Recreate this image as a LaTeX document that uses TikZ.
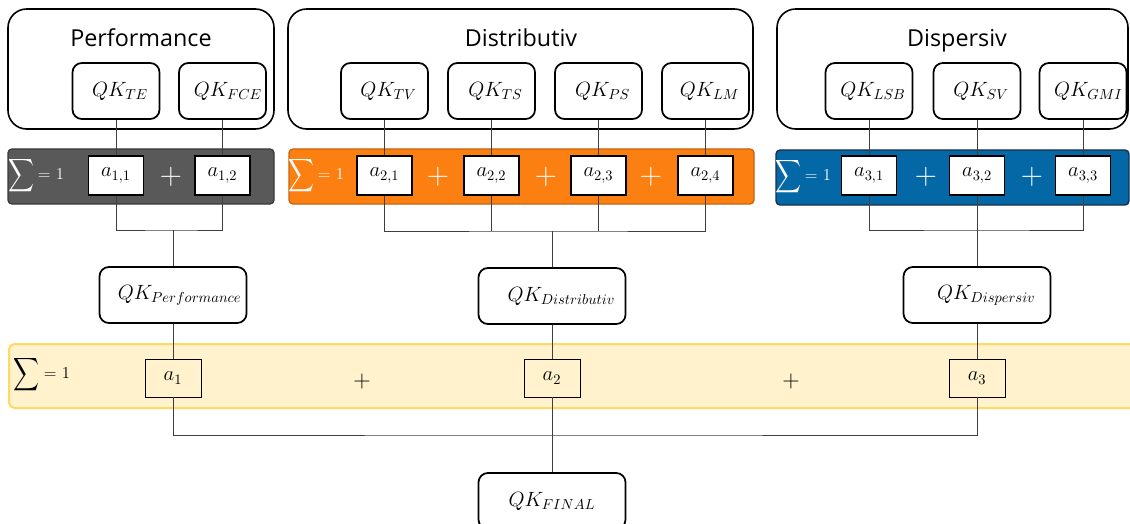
\RequirePackage{fix-cm}
\documentclass[tikz,border=0pt]{standalone}
\usepackage{amsmath}
\usepackage{graphicx}
\usepackage{fontspec}
\newfontfamily\titlefont{Open Sans}
\definecolor{darkfill}{HTML}{595959}
\definecolor{darkedge}{HTML}{3A3A3A}
\definecolor{orangefill}{HTML}{FC7F12}
\definecolor{orangeedge}{HTML}{C8640E}
\definecolor{bluefill}{HTML}{0467A6}
\definecolor{blueedge}{HTML}{1B2F45}
\definecolor{yellowfill}{HTML}{FFF2CC}
\definecolor{yellowedge}{HTML}{FFD966}
\definecolor{connc}{HTML}{3F3F3F}
\newcommand{\bigsum}{\scalebox{0.78}[1]{$\displaystyle\sum$}}
\begin{document}
\begin{tikzpicture}[x=0.75pt,y=-0.75pt,
  bigbox/.style={draw=black, line width=1.2pt, rounded corners=14pt},
  title/.style={font=\titlefont\fontsize{17.5}{20}\selectfont, inner sep=0pt, anchor=base},
  qkbox/.style={draw=black, line width=1.3pt, rounded corners=7pt, minimum width=87*0.75pt, minimum height=56*0.75pt, inner sep=0pt, font=\fontsize{15.5}{18}\selectfont},
  midbox/.style={qkbox, minimum width=147*0.75pt},
  barshape/.style={line width=1pt, rounded corners=3pt},
  abox/.style={draw=black, fill=white, line width=1.4pt, minimum width=55*0.75pt, minimum height=39*0.75pt, inner sep=0pt, font=\fontsize{15.5}{18}\selectfont},
  ybox/.style={draw=black, line width=0.6pt, minimum width=56*0.75pt, minimum height=38*0.75pt, inner sep=0pt, font=\fontsize{15.5}{18}\selectfont},
  sumsym/.style={inner sep=0pt, font=\fontsize{18}{18}\selectfont},
  sumeq/.style={inner sep=0pt, font=\fontsize{12.5}{14}\selectfont},
  plussign/.style={inner sep=0pt, font=\fontsize{23}{23}\selectfont},
  conn/.style={draw=connc, line width=0.75pt},
]
\clip (0,0) rectangle (1130,524);

% group boxes
\draw[bigbox] (8,9) rectangle (274,129);
\draw[bigbox] (288,9) rectangle (753,129);
\draw[bigbox] (777,9) rectangle (1128,129);
\node[title] (tperf) at (141,47) {Performance};
\node[title] (tdist) at (521,47) {Distributiv};
\node[title] (tdisp) at (957,47) {Dispersiv};

% weight bars
\draw[barshape, fill=darkfill, draw=darkedge] (8,149) rectangle (274,204);
\draw[barshape, fill=orangefill, draw=orangeedge] (289,149) rectangle (754,204);
\draw[barshape, fill=bluefill, draw=blueedge] (776,150) rectangle (1129,205);
\draw[line width=1.5pt, rounded corners=4pt, fill=yellowfill, draw=yellowedge] (9,344) rectangle (1150,408);

% sum labels
\node[sumsym, text=white] (s1) at (21,176) {\bigsum};
\node[sumeq, text=white] (e1) at (51,174) {= 1};
\node[sumsym, text=white] (s2) at (301,176) {\bigsum};
\node[sumeq, text=white] (e2) at (331,174) {= 1};
\node[sumsym, text=white] (s3) at (788,177) {\bigsum};
\node[sumeq, text=white] (e3) at (818,175) {= 1};
\node[sumsym] (s4) at (26,375) {\bigsum};
\node[sumeq] (e4) at (57,373) {= 1};

% plus signs
\node[plussign, text=white] (p1) at (171,177) {$+$};
\node[plussign, text=white] (p2) at (438,177) {$+$};
\node[plussign, text=white] (p3) at (546,177) {$+$};
\node[plussign, text=white] (p4) at (651,177) {$+$};
\node[plussign, text=white] (p5) at (926,177) {$+$};
\node[plussign, text=white] (p6) at (1032,177) {$+$};
\node[plussign, font=\fontsize{18}{18}\selectfont] (p7) at (362,381) {$+$};
\node[plussign, font=\fontsize{18}{18}\selectfont] (p8) at (791,381) {$+$};

% criterion boxes
\node[qkbox] (te)  at (116,91)   {\hspace*{6pt}$QK_{TE}$};
\node[qkbox] (fce) at (222.5,91) {\hspace*{8pt}$QK_{FCE}$};
\node[qkbox] (tv)  at (384.5,91) {\hspace*{6pt}$QK_{TV}$};
\node[qkbox] (ts)  at (491.5,91) {\hspace*{6pt}$QK_{TS}$};
\node[qkbox] (ps)  at (598.5,91) {\hspace*{6pt}$QK_{PS}$};
\node[qkbox] (lm)  at (705.5,91) {\hspace*{6pt}$QK_{LM}$};
\node[qkbox] (lsb) at (869,91)   {\hspace*{6pt}$QK_{LSB}$};
\node[qkbox] (sv)  at (977,91)   {\hspace*{6pt}$QK_{SV}$};
\node[qkbox] (gmi) at (1083,91)  {\hspace*{8pt}$QK_{GMI}$};

% weights
\node[abox] (a11) at (116,175.5)   {$a_{1,1}$};
\node[abox] (a12) at (222.5,175.5) {$a_{1,2}$};
\node[abox] (a21) at (384.5,175.5) {$a_{2,1}$};
\node[abox] (a22) at (491.5,175.5) {$a_{2,2}$};
\node[abox] (a23) at (598.5,175.5) {$a_{2,3}$};
\node[abox] (a24) at (705.5,175.5) {$a_{2,4}$};
\node[abox] (a31) at (869,175.5)   {$a_{3,1}$};
\node[abox] (a32) at (977,175.5)   {$a_{3,2}$};
\node[abox] (a33) at (1083,175.5)  {$a_{3,3}$};

% aggregated criteria
\node[midbox] (qkp)    at (173,295) {\hspace*{10pt}$QK_{Performance}$};
\node[midbox] (qkd)    at (552,296) {\hspace*{14pt}$QK_{Distributiv}$};
\node[midbox] (qkdisp) at (977,295) {\hspace*{14pt}$QK_{Dispersiv}$};

\node[ybox] (y1) at (173,378) {$a_1$};
\node[ybox] (y2) at (552,378) {$a_2$};
\node[ybox] (y3) at (977,378) {$a_3$};

\node[midbox] (fin) at (552,501) {$QK_{FINAL}$};

% connectors
\foreach \u/\v in {te/a11, fce/a12, tv/a21, ts/a22, ps/a23, lm/a24, lsb/a31, sv/a32, gmi/a33}
  \draw[conn] (\u.south) -- (\v.north);

\coordinate (j1) at (173,230);
\coordinate (j2) at (552,231);
\coordinate (j3) at (977,230);
\coordinate (j4) at (552,435);

\draw[conn] (a11.south) |- (j1) -| (a12.south);
\draw[conn] (j1) -- (qkp.north);

\draw[conn] (a21.south) |- (j2) -| (a24.south);
\draw[conn] (a22.south) -- (a22.south |- j2);
\draw[conn] (a23.south) -- (a23.south |- j2);
\draw[conn] (j2) -- (qkd.north);

\draw[conn] (a31.south) |- (j3) -| (a33.south);
\draw[conn] (a32.south) -- (j3);
\draw[conn] (j3) -- (qkdisp.north);

\draw[conn] (qkp.south) -- (y1.north);
\draw[conn] (qkd.south) -- (y2.north);
\draw[conn] (qkdisp.south) -- (y3.north);

\draw[conn] (y1.south) |- (j4) -| (y3.south);
\draw[conn] (y2.south) -- (j4);
\draw[conn] (j4) -- (fin.north);
\end{tikzpicture}
\end{document}
